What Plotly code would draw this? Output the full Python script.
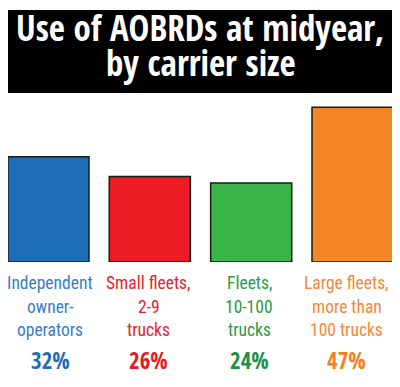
import plotly.graph_objects as go

categories = ["Independent owner-operators", "Small fleets, 2-9 trucks",
              "Fleets, 10-100 trucks", "Large fleets, more than 100 trucks"]
values = [32, 26, 24, 47]
label_lines = [["Independent", "owner-", "operators"],
               ["Small fleets,", "2-9", "trucks"],
               ["Fleets,", "10-100", "trucks"],
               ["Large fleets,", "more than", "100 trucks"]]
pct_labels = ["32%", "26%", "24%", "47%"]
bar_colors = ["#1c6db5", "#ec1c24", "#3bb54a", "#f48524"]
text_colors = ["#3a7dc0", "#e5232b", "#2a9a48", "#f4873c"]
pct_colors = ["#1f6db4", "#e31b23", "#1a9346", "#f47e22"]
title_lines = ["Use of AOBRDs at midyear,", "by carrier size"]

TITLE_FONT = "Open Sans Condensed, Roboto Condensed, sans-serif"
LABEL_FONT = "Roboto Condensed, sans-serif"

W, H = 392, 379
L, R, T, B = 0, 7, 92, 125
ph = H - T - B
label_xshift = [2, -1, -2, -6]

def py(y):
    return (H - B - y) / ph

fig = go.Figure(go.Bar(
    x=list(range(len(categories))), y=values,
    marker=dict(color=bar_colors, line=dict(color="#1a1a1a", width=1.5)),
    hoverinfo="skip",
))

fig.update_layout(
    width=W, height=H, margin=dict(l=L, r=R, t=T, b=B),
    paper_bgcolor="white", plot_bgcolor="white",
    bargap=0.2, showlegend=False,
    xaxis=dict(visible=False, range=[-0.399, 3.399]),
    yaxis=dict(visible=False, range=[0, 49.2]),
)

fig.add_shape(type="rect", xref="paper", yref="paper",
              x0=0, x1=1, y0=py(85), y1=py(2),
              fillcolor="black", line=dict(width=0), layer="below")

for t, yc in zip(title_lines, [19.5, 54.5]):
    fig.add_annotation(xref="paper", yref="paper", x=0.5, y=py(yc),
                       text="<b>" + t + "</b>", showarrow=False,
                       font=dict(family=TITLE_FONT, size=35, color="white"),
                       xanchor="center", yanchor="middle")

line_centers = [275, 299, 322]
for i in range(len(categories)):
    for line, yc in zip(label_lines[i], line_centers):
        fig.add_annotation(x=i, yref="paper", y=py(yc), text=line,
                           showarrow=False, xanchor="center", yanchor="middle",
                           xshift=label_xshift[i],
                           font=dict(family=LABEL_FONT, size=17.5, color=text_colors[i]))
    fig.add_annotation(x=i, yref="paper", y=py(351.5), text="<b>" + pct_labels[i] + "</b>",
                       showarrow=False, xanchor="center", yanchor="middle",
                       xshift=label_xshift[i],
                       font=dict(family=TITLE_FONT, size=23, color=pct_colors[i]))

fig.write_html("out.html")
